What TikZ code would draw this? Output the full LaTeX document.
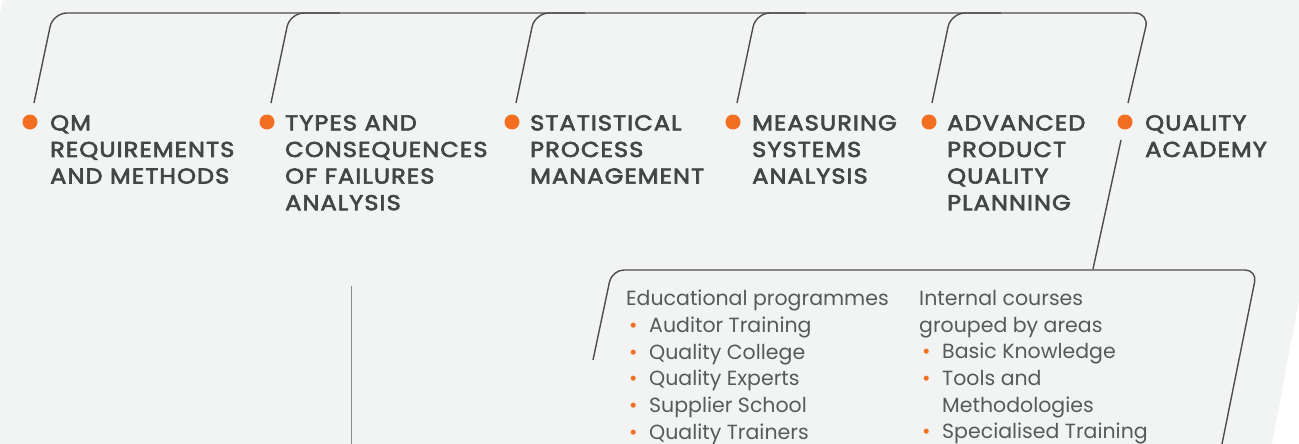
\documentclass[tikz,border=0pt]{standalone}
\usepackage{fontspec}
\setmainfont{Poppins}
\newfontfamily\headfont[FakeBold=3,FakeStretch=1.12,LetterSpace=5]{Poppins}
\newfontfamily\bodyfont{Poppins}
\definecolor{bg}{HTML}{F2F3F3}
\definecolor{linec}{HTML}{4D4D4F}
\definecolor{headc}{HTML}{444547}
\definecolor{bodyc}{HTML}{58595B}
\definecolor{orng}{HTML}{F26F21}
\definecolor{vline}{HTML}{8A8A8C}
\newcommand{\bul}{\makebox[23pt][l]{\hspace{3pt}{\color{orng}\textbullet}}}
\newcommand{\ind}{\hspace{23pt}}
\begin{document}
\begin{tikzpicture}[x=1pt,y=-1pt,
  conn/.style={draw=linec,line width=1.4pt},
  dot/.style={circle,fill=orng,minimum size=15pt,inner sep=0pt},
  head/.style={anchor=north west,inner sep=0pt,align=left,text=headc,
    font=\headfont\fontsize{21.5}{26.6}\selectfont},
  body/.style={anchor=north west,inner sep=0pt,align=left,text=bodyc,
    font=\bodyfont\fontsize{20.5}{26.7}\selectfont}]
\useasboundingbox (0,0) rectangle (1299,444);
\fill[white] (0,0) rectangle (1299,444);
\fill[bg] (3,0) -- (1299,0) -- (1299,300) -- (1272,444) -- (0,444) -- (0,14) -- cycle;

% dots
\node[dot] (d1) at (30,122) {};
\node[dot] (d2) at (267,122) {};
\node[dot] (d3) at (512,122) {};
\node[dot] (d4) at (733,122) {};
\node[dot] (d5) at (929,122) {};
\node[dot] (d6) at (1125,122) {};

% headings
\node[head] (h1) at (50,115) {QM\\REQUIREMENTS\\AND METHODS};
\node[head] (h2) at (285,115) {TYPES AND\\CONSEQUENCES\\OF FAILURES\\ANALYSIS};
\node[head] (h3) at (530,115) {STATISTICAL\\PROCESS\\MANAGEMENT};
\node[head] (h4) at (752,115) {MEASURING\\SYSTEMS\\ANALYSIS};
\node[head] (h5) at (947,115) {ADVANCED\\PRODUCT\\QUALITY\\PLANNING};
\node[head] (h6) at (1145,115) {QUALITY\\ACADEMY};

% connector coordinates
\coordinate (e1) at (34,103);
\coordinate (e2) at (271,103);
\coordinate (e3) at (516,103);
\coordinate (e4) at (737,103);
\coordinate (e5) at (932,103);
\coordinate (e6) at (1128,103);
\coordinate (f6) at (1121,140);
\coordinate (g6) at (1093,269);

\draw[conn,rounded corners=14pt] (e1) -- (53,13) -- (1149,13) -- (e6);
\draw[conn,rounded corners=14pt] (e2) -- (290,13) -- (340,13);
\draw[conn,rounded corners=14pt] (e3) -- (535,13) -- (585,13);
\draw[conn,rounded corners=14pt] (e4) -- (756,13) -- (806,13);
\draw[conn,rounded corners=14pt] (e5) -- (951,13) -- (1001,13);
\draw[conn] (f6) -- (g6);

% box
\draw[conn,rounded corners=12pt] (593,360) -- (612,270) -- (1257,270) -- (1222,444);

% vertical line
\draw[draw=vline,line width=1.2pt] (351.5,286) -- (351.5,444);

% box text
\node[body] (c1) at (626,290) {Educational programmes\\
\bul Auditor Training\\
\bul Quality College\\
\bul Quality Experts\\
\bul Supplier School\\
\bul Quality Trainers};
\node[body] (c2) at (919,290) {Internal courses\\
grouped by areas\\
\bul Basic Knowledge\\
\bul Tools and\\
\ind Methodologies\\
\bul Specialised Training};
\end{tikzpicture}
\end{document}
